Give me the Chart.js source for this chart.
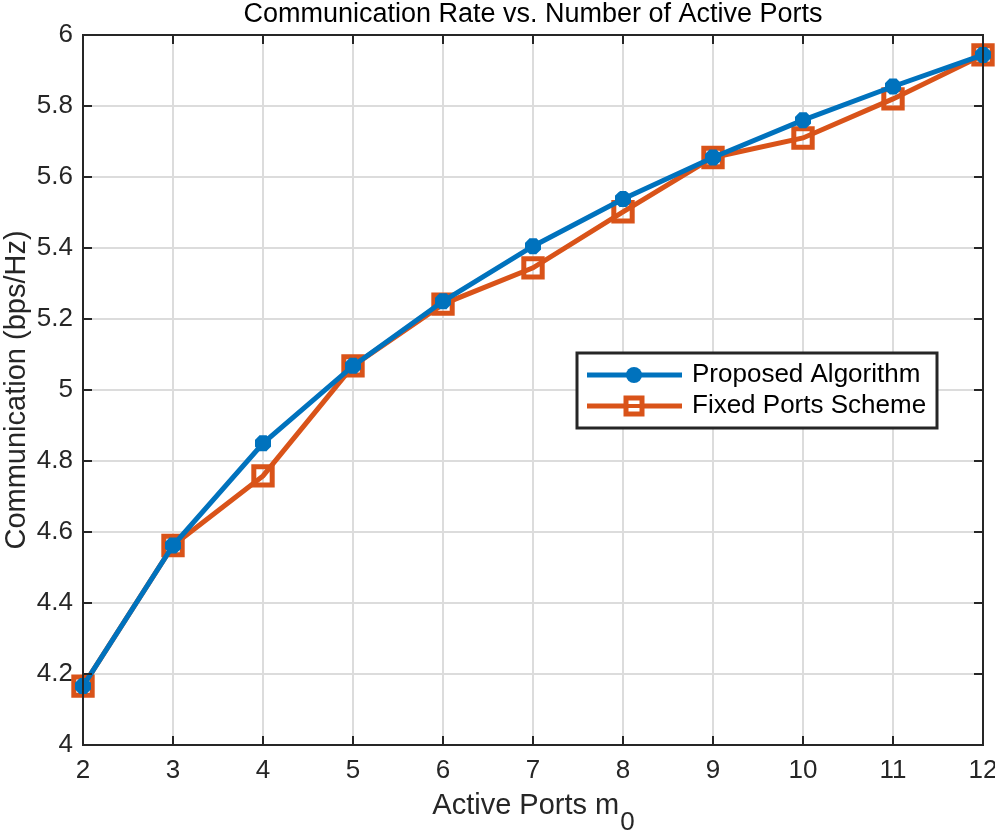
<!DOCTYPE html>
<html>
<head>
<meta charset="utf-8">
<script src="https://cdn.jsdelivr.net/npm/chart.js@4"></script>
<style>
  body { margin: 0; background: #fff; }
  #wrap { width: 995px; height: 834px; }
</style>
</head>
<body>
<div id="wrap"><canvas id="rate"></canvas></div>
<script>
var ports = [2, 3, 4, 5, 6, 7, 8, 9, 10, 11, 12];
var proposed = [4.166, 4.562, 4.850, 5.068, 5.250, 5.405, 5.538, 5.655, 5.760, 5.855, 5.944];
var fixedPorts = [4.166, 4.562, 4.758, 5.068, 5.242, 5.344, 5.502, 5.655, 5.710, 5.820, 5.944];
var seriesNames = ['Proposed Algorithm', 'Fixed Ports Scheme'];
var yTicks = [4, 4.2, 4.4, 4.6, 4.8, 5, 5.2, 5.4, 5.6, 5.8, 6];

var FONT = '"Liberation Sans", Arial, Helvetica, sans-serif';
var DARK = '#262626';
var BLUE = '#0072BD';
var ORANGE = '#D95319';

function pts(xs, ys) {
	var out = [];
	for (var i = 0; i < xs.length; i++) out.push({ x: xs[i], y: ys[i] });
	return out;
}

var matlabLook = {
	id: 'matlabLook',
	afterDraw: function(chart) {
		var ctx = chart.ctx;
		var a = chart.chartArea;
		var xs = chart.scales.x, ys = chart.scales.y;
		ctx.save();
		// inward ticks
		ctx.strokeStyle = DARK;
		ctx.lineWidth = 2;
		ctx.beginPath();
		ports.forEach(function(v) {
			var px = xs.getPixelForValue(v);
			ctx.moveTo(px, a.bottom); ctx.lineTo(px, a.bottom - 9);
			ctx.moveTo(px, a.top); ctx.lineTo(px, a.top + 9);
		});
		yTicks.forEach(function(v) {
			var py = ys.getPixelForValue(v);
			ctx.moveTo(a.left, py); ctx.lineTo(a.left + 9, py);
			ctx.moveTo(a.right, py); ctx.lineTo(a.right - 9, py);
		});
		ctx.stroke();
		// box
		ctx.strokeRect(a.left, a.top, a.right - a.left, a.bottom - a.top);

		// title
		ctx.fillStyle = '#000';
		ctx.font = '27px ' + FONT;
		ctx.textAlign = 'center';
		ctx.textBaseline = 'middle';
		ctx.fillText('Communication Rate vs. Number of Active Ports', (a.left + a.right) / 2, 15);

		// x label with subscript
		ctx.fillStyle = DARK;
		ctx.font = '29px ' + FONT;
		var main = 'Active Ports m';
		var wMain = ctx.measureText(main).width;
		ctx.font = '26px ' + FONT;
		var wSub = ctx.measureText('0').width;
		var startX = (a.left + a.right) / 2 - (wMain + wSub) / 2;
		ctx.textAlign = 'left';
		ctx.textBaseline = 'alphabetic';
		ctx.font = '29px ' + FONT;
		ctx.fillText(main, startX, 814);
		ctx.font = '26px ' + FONT;
		ctx.fillText('0', startX + wMain + 1, 830);

		// legend
		var lx = 577, ly = 353, lw = 360, lh = 75;
		ctx.fillStyle = '#fff';
		ctx.fillRect(lx, ly, lw, lh);
		ctx.strokeStyle = DARK;
		ctx.lineWidth = 3;
		ctx.strokeRect(lx, ly, lw, lh);
		var rows = [ly + 22, ly + 53];
		chart.data.datasets.forEach(function(ds, i) {
			var y = rows[i];
			ctx.strokeStyle = ds.borderColor;
			ctx.lineWidth = 5;
			ctx.beginPath();
			ctx.moveTo(lx + 10, y); ctx.lineTo(lx + 105, y);
			ctx.stroke();
			if (i === 0) {
				ctx.fillStyle = BLUE;
				ctx.beginPath();
				ctx.arc(lx + 57, y, 8, 0, Math.PI * 2);
				ctx.fill();
			} else {
				ctx.lineWidth = 5;
				ctx.fillStyle = '#fff';
				ctx.fillRect(lx + 49, y - 8, 16, 16);
				ctx.strokeRect(lx + 49, y - 8, 16, 16);
				ctx.lineWidth = 4;
				ctx.beginPath();
				ctx.moveTo(lx + 49, y); ctx.lineTo(lx + 65, y);
				ctx.stroke();
			}
			ctx.fillStyle = '#000';
			ctx.font = '26px ' + FONT;
			ctx.textAlign = 'left';
			ctx.textBaseline = 'middle';
			ctx.fillText(ds.label, lx + 115, y);
		});
		ctx.restore();
	}
};

new Chart(document.getElementById('rate'), {
	type: 'line',
	data: {
		datasets: [{
			label: seriesNames[0],
			data: pts(ports, proposed),
			borderColor: BLUE,
			backgroundColor: BLUE,
			borderWidth: 5,
			pointStyle: 'star',
			pointRadius: 8,
			pointBorderWidth: 7,
			pointBorderColor: BLUE,
			clip: false,
			tension: 0
		}, {
			label: seriesNames[1],
			data: pts(ports, fixedPorts),
			borderColor: ORANGE,
			backgroundColor: 'rgba(0,0,0,0)',
			borderWidth: 5,
			pointStyle: 'rect',
			pointRadius: 13,
			pointBorderWidth: 5,
			pointBorderColor: ORANGE,
			clip: false,
			tension: 0
		}]
	},
	options: {
		responsive: true,
		maintainAspectRatio: false,
		animation: false,
		layout: { autoPadding: false, padding: { top: 35, right: 0, left: 0, bottom: 0 } },
		plugins: {
			legend: { display: false },
			tooltip: { enabled: false }
		},
		scales: {
			x: {
				type: 'linear',
				min: 2, max: 12,
				afterFit: function(s) { s.height = 89; s.paddingRight = 12; s.paddingLeft = 0; },
				afterBuildTicks: function(s) { s.ticks = ports.map(function(v) { return { value: v }; }); },
				grid: { color: '#dcdcdc', lineWidth: 2, drawTicks: false },
				border: { display: false },
				ticks: { color: DARK, font: { family: FONT, size: 26 }, padding: 10, maxRotation: 0 }
			},
			y: {
				min: 4, max: 6,
				afterFit: function(s) { s.width = 83; s.paddingTop = 0; s.paddingBottom = 0; },
				afterBuildTicks: function(s) { s.ticks = yTicks.map(function(v) { return { value: v }; }); },
				grid: { color: '#dcdcdc', lineWidth: 2, drawTicks: false },
				border: { display: false },
				title: { display: true, text: 'Communication (bps/Hz)', color: DARK, font: { family: FONT, size: 29 }, padding: 0 },
				ticks: {
					color: DARK, font: { family: FONT, size: 26 }, padding: 10,
					callback: function(v) { return String(Number(v.toFixed(1))); }
				}
			}
		}
	},
	plugins: [matlabLook]
});
</script>
</body>
</html>
